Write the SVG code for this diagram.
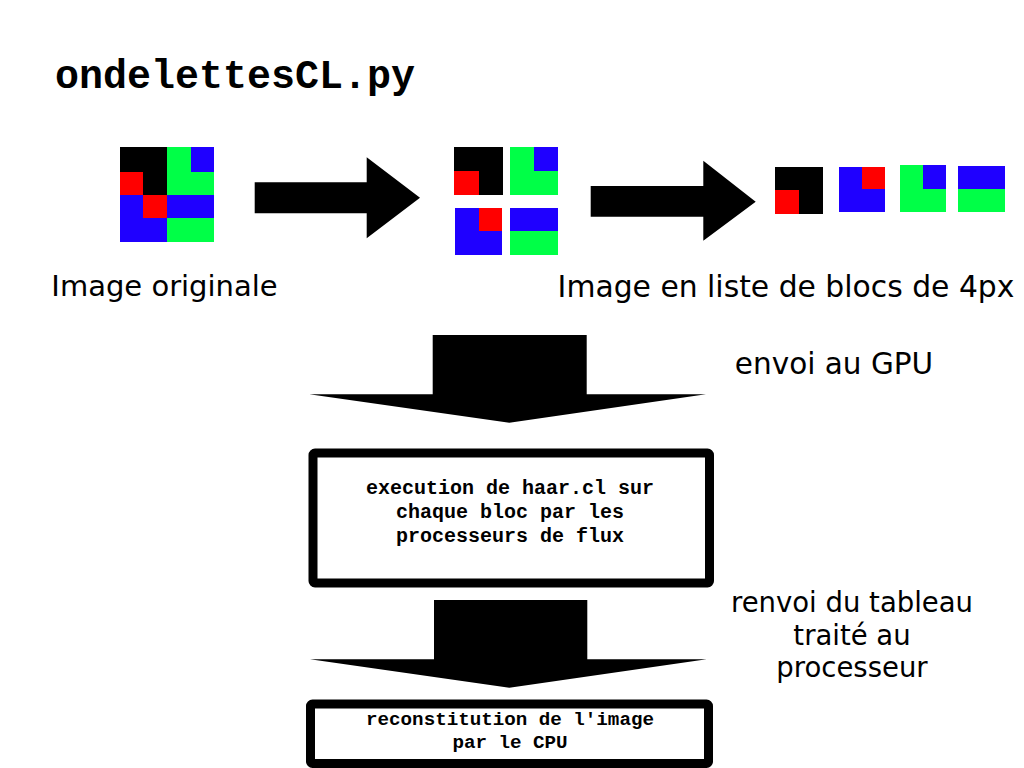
<svg xmlns="http://www.w3.org/2000/svg" width="1024" height="768" viewBox="0 0 1024 768">
<style>
rect.k,rect.r,rect.g,rect.b{shape-rendering:crispEdges}
.k{fill:#000000}
.r{fill:#ff0000}
.g{fill:#00ff47}
.b{fill:#1f00ff}
.arrow{fill:#000000}
.box{fill:#ffffff;stroke:#000000;stroke-width:9;stroke-linejoin:round}
.title{font-family:"Liberation Mono","DejaVu Sans Mono",monospace;font-weight:bold;font-size:40px;fill:#000}
.mono{font-family:"Liberation Mono","DejaVu Sans Mono",monospace;font-weight:bold;fill:#000;text-anchor:middle}
.lbl{font-family:"DejaVu Sans","Liberation Sans",sans-serif;fill:#000;text-anchor:middle}
</style>
<rect width="1024" height="768" fill="#ffffff"/>
<text class="title" x="55" y="88">ondelettesCL.py</text>

<g id="image-originale">
<rect class="b" x="120" y="147" width="94" height="95"/>
<rect class="k" x="120" y="147" width="47" height="25"/>
<rect class="k" x="143" y="147" width="24" height="48"/>
<rect class="r" x="120" y="172" width="23" height="23"/>
<rect class="r" x="143" y="195" width="24" height="23"/>
<rect class="g" x="167" y="147" width="47" height="48"/>
<rect class="b" x="191" y="147" width="23" height="25"/>
<rect class="g" x="167" y="218" width="47" height="24"/>
<text class="lbl" x="164.5" y="296" font-size="29">Image originale</text>
</g>

<g id="blocs-2x2">
<rect class="k" x="454" y="147" width="49" height="48"/>
<rect class="r" x="454" y="171" width="25" height="24"/>
<rect class="g" x="510" y="147" width="48" height="48"/>
<rect class="b" x="534" y="147" width="24" height="24"/>
<rect class="b" x="455" y="208" width="47" height="47"/>
<rect class="r" x="479" y="208" width="23" height="23"/>
<rect class="g" x="510" y="208" width="48" height="47"/>
<rect class="b" x="510" y="208" width="48" height="23"/>
</g>

<g id="liste-blocs">
<rect class="k" x="775" y="167" width="48" height="47"/>
<rect class="r" x="775" y="190" width="24" height="24"/>
<rect class="b" x="839" y="167" width="46" height="45"/>
<rect class="r" x="862" y="167" width="23" height="22"/>
<rect class="g" x="900" y="165" width="46" height="47"/>
<rect class="b" x="923" y="165" width="23" height="24"/>
<rect class="g" x="958" y="166" width="47" height="46"/>
<rect class="b" x="958" y="166" width="47" height="23"/>
<text class="lbl" x="786" y="297" font-size="29.8">Image en liste de blocs de 4px</text>
</g>

<g id="connectors">
<polygon class="arrow" points="254.7,182.3 366.7,182.3 366.7,157.3 420,197.7 366.7,238.3 366.7,213.3 254.7,213.3"/>
<polygon class="arrow" points="590.7,186 703.3,186 703.3,160.7 755.7,201.7 703.3,240.7 703.3,216.7 590.7,216.7"/>
<polygon class="arrow" points="432.7,335 586.7,335 586.7,394.3 706,394.3 509.3,422.7 309.3,394.3 432.7,394.3"/>
<polygon class="arrow" points="434,600 587.3,600 587.3,659.3 706.7,659.3 509.3,687.7 310,659.3 434,659.3"/>
</g>

<g id="envoi-gpu">
<text class="lbl" x="834" y="374" font-size="29.5">envoi au GPU</text>
</g>

<g id="execution-haar">
<rect class="box" x="313" y="453" width="396.5" height="130" rx="2"/>
<text class="mono" font-size="20" x="510" y="494">execution de haar.cl sur</text>
<text class="mono" font-size="20" x="510" y="518">chaque bloc par les</text>
<text class="mono" font-size="20" x="510" y="541.5">processeurs de flux</text>
</g>

<g id="renvoi-tableau">
<text class="lbl" x="852" y="611.7" font-size="27.5">renvoi du tableau</text>
<text class="lbl" x="852" y="644.5" font-size="27.5">traité au</text>
<text class="lbl" x="852" y="676.7" font-size="27.5">processeur</text>
</g>

<g id="reconstitution">
<rect class="box" x="310.5" y="704" width="398" height="59.5" rx="2"/>
<text class="mono" font-size="19.2" x="510" y="724.5">reconstitution de l'image</text>
<text class="mono" font-size="19.2" x="510" y="748">par le CPU</text>
</g>
</svg>
